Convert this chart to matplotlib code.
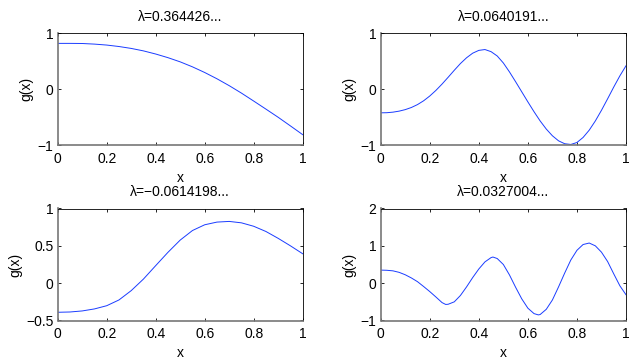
import matplotlib
matplotlib.use('Agg')
import matplotlib.pyplot as plt
import numpy as np

plt.rcParams['font.family'] = ['Liberation Sans', 'DejaVu Sans']
plt.rcParams['font.size'] = 10

# sample positions
x_coarse = [0.0, 0.05, 0.1, 0.15, 0.2, 0.25, 0.3, 0.35, 0.4, 0.45, 0.5,
            0.55, 0.6, 0.65, 0.7, 0.75, 0.8, 0.85, 0.9, 0.95, 1.0]
x_fine = [0.0, 0.025, 0.05, 0.075, 0.1, 0.125, 0.15, 0.175, 0.2, 0.225,
          0.25, 0.275, 0.3, 0.325, 0.35, 0.375, 0.4, 0.425, 0.45, 0.475,
          0.5, 0.525, 0.55, 0.575, 0.6, 0.625, 0.65, 0.675, 0.7, 0.725,
          0.75, 0.775, 0.8, 0.825, 0.85, 0.875, 0.9, 0.925, 0.95, 0.975, 1.0]
# same grid plus the turning points of the last curve
x_last = [0.0, 0.025, 0.05, 0.075, 0.1, 0.125, 0.15, 0.175, 0.2, 0.225,
          0.25, 0.265, 0.275, 0.3, 0.325, 0.35, 0.375, 0.4, 0.425, 0.45, 0.4575, 0.475,
          0.5, 0.525, 0.55, 0.575, 0.6, 0.625, 0.6425, 0.65, 0.675, 0.7, 0.725,
          0.75, 0.775, 0.8, 0.825, 0.85, 0.875, 0.9, 0.925, 0.95, 0.975, 1.0]

# eigenfunction values
g1 = [0.82, 0.82, 0.818, 0.807, 0.79, 0.764, 0.73, 0.686, 0.63, 0.565, 0.49,
      0.401, 0.30, 0.188, 0.065, -0.068, -0.21, -0.354, -0.50, -0.654, -0.81]
g2 = [-0.42, -0.418, -0.408, -0.39, -0.363, -0.325, -0.273, -0.205, -0.12, -0.02,
      0.093, 0.215, 0.34, 0.46, 0.563, 0.645, 0.695, 0.71, 0.672, 0.595,
      0.47, 0.31, 0.135, -0.045, -0.225, -0.4, -0.565, -0.71, -0.83, -0.92,
      -0.972, -0.985, -0.95, -0.86, -0.73, -0.565, -0.375, -0.17, 0.04, 0.24, 0.42]
g3 = [-0.39, -0.386, -0.372, -0.345, -0.302, -0.225, -0.1, 0.055, 0.235, 0.413, 0.577,
      0.705, 0.782, 0.818, 0.827, 0.808, 0.762, 0.692, 0.60, 0.50, 0.394]
g4 = [0.35, 0.345, 0.33, 0.29, 0.225, 0.14, 0.04, -0.09, -0.225, -0.37,
      -0.52, -0.57, -0.565, -0.5, -0.33, -0.1, 0.15, 0.38, 0.57, 0.685, 0.70, 0.66,
      0.5, 0.22, -0.11, -0.42, -0.67, -0.815, -0.85, -0.84, -0.7, -0.45, -0.1,
      0.27, 0.62, 0.88, 1.035, 1.075, 1.0, 0.83, 0.58, 0.25, -0.07, -0.31]

titles = ['\u03bb=0.364426...', '\u03bb=0.0640191...',
          '\u03bb=\u22120.0614198...', '\u03bb=0.0327004...']
xticks = [0, 0.2, 0.4, 0.6, 0.8, 1]
xticklabels = ['0', '0.2', '0.4', '0.6', '0.8', '1']
yticks = [[-1, 0, 1], [-1, 0, 1], [-0.5, 0, 0.5, 1], [-1, 0, 1, 2]]
yticklabels = [['\u22121', '0', '1'], ['\u22121', '0', '1'],
               ['\u22120.5', '0', '0.5', '1'], ['\u22121', '0', '1', '2']]

W, H = 636, 361
fig = plt.figure(figsize=(W / 100, H / 100), dpi=100)

# axes boxes in pixels: left, top, right, bottom
boxes = [(57.7, 33.3, 302.7, 145.3), (380.7, 33.3, 626.0, 145.3),
         (57.7, 208.5, 302.7, 320.5), (380.7, 208.5, 626.0, 320.5)]
xs = [x_coarse, x_fine, x_coarse, x_last]
gs = [g1, g2, g3, g4]

for i in range(4):
    l, t, r, b = boxes[i]
    ax = fig.add_axes([l / W, 1 - b / H, (r - l) / W, (b - t) / H])
    ax.plot(xs[i], gs[i], color='#1a3cff', lw=0.7)
    ax.set_xlim(0, 1)
    ax.set_ylim(yticks[i][0], yticks[i][-1])
    ax.set_xticks(xticks)
    ax.set_xticklabels(xticklabels)
    ax.set_yticks(yticks[i])
    ax.set_yticklabels(yticklabels[i])
    ax.tick_params(direction='in', length=2.5, width=0.6, top=True, right=True,
                   labelsize=10)
    ax.tick_params(axis='x', pad=5)
    ax.tick_params(axis='y', pad=3)
    for side in ['top', 'right']:
        ax.spines[side].set_linewidth(0.6)
    for side in ['left', 'bottom']:
        ax.spines[side].set_linewidth(1.2)
        ax.spines[side].set_color('#777777')
    ax.set_title(titles[i], fontsize=10, pad=9)
    ax.set_xlabel('x', fontsize=10, labelpad=3.5)
    ax.set_ylabel('g(x)', fontsize=10, labelpad=3)

fig.savefig('out.png', dpi=100, facecolor='white')
